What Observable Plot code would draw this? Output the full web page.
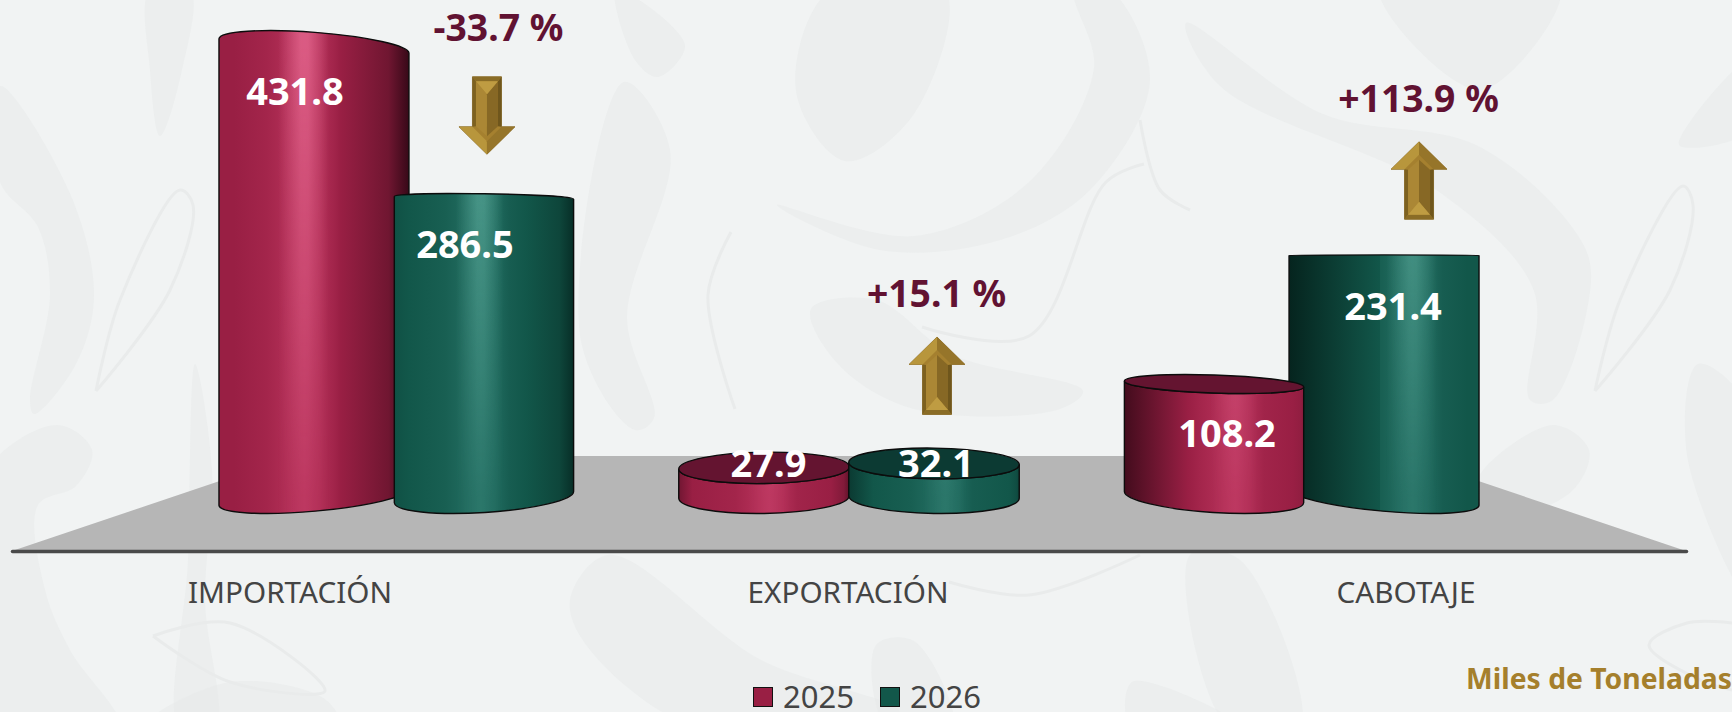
<!DOCTYPE html>
<html lang="es">
<head>
<meta charset="utf-8">
<title>Carga en Miles de Toneladas</title>
<script src="https://cdn.jsdelivr.net/npm/d3@7"></script>
<script src="https://cdn.jsdelivr.net/npm/@observablehq/plot@0.6"></script>
<style>
  html, body { margin: 0; padding: 0; width: 1732px; height: 712px; overflow: hidden; background: #f1f3f3; font-family: "Noto Sans", sans-serif; }
  #stage { position: relative; width: 1732px; height: 712px; overflow: hidden; }
  #stage > svg { position: absolute; left: 0; top: 0; }
  .key { position: absolute; top: 681px; font-size: 31px; line-height: 30px; color: #444; }
  .key i { position: absolute; top: 6px; left: -30px; width: 18px; height: 18px; border: 1.5px solid #111; }
  #unit { position: absolute; right: 0; top: 658px; font-size: 28.3px; line-height: 40px; font-weight: 700; color: #a57f2c; white-space: nowrap; }
</style>
</head>
<body>
<div id="stage"></div>
<script>
// ---- data -------------------------------------------------------------
const categories = ["IMPORTACIÓN", "EXPORTACIÓN", "CABOTAJE"];
const years = [2025, 2026];
const values2025 = [431.8, 27.9, 108.2];
const values2026 = [286.5, 32.1, 231.4];
const changes = [-33.7, 15.1, 113.9];
const unitLabel = "Miles de Toneladas";

// ---- styles -----------------------------------------------------------
const seriesColors = ["#991f44", "#12574a"];
const edgeColors = ["#2c0713", "#04211c"];
const lightColors = ["#b9335c", "#257064"];
const glowColors = ["#ff86ad", "#86d8c6"];
const capColors = ["#641430", "#0c3a33"];
const pctColor = "#611232";

// label offsets from the top of each cylinder, in pixels (2025, 2026 per category)
const valueNudgeX = [[-19.5, -19.5], [4, 1.5], [12.5, 8.5]];
const valueNudgeY = [[46.5, 48], [-3.5, 1], [50.5, 52.5]];
// arrow offset from the top of the 2026 cylinder, and its label above the arrow
const arrowNudgeX = [3, 3, 35];
const arrowNudgeY = [-43.5, -49, -36];
const pctNudgeX = [11, -1, -1];
const pctNudgeY = [-47, -42, -42];

const rows = categories.flatMap((category, i) => [
  {category, i, s: 0, year: years[0], value: values2025[i]},
  {category, i, s: 1, year: years[1], value: values2026[i]}
]);
const changeRows = categories.map((category, i) => ({category, i, change: changes[i], base: values2026[i]}));

// ---- perspective of the 3-D floor ---------------------------------------
const backScale = 0.811, barGap = 85, barWidth = 170;
function barGeometry(row, x) {
  const cMid = (x.range()[0] + x.range()[1]) / 2;
  const c = x(row.category) + x.bandwidth() / 2;
  const projected = cMid + (c - cMid) * backScale;
  const shift = (cMid - projected) / 452 * 2.5;
  const cx = projected + (row.s ? barGap : -barGap) + shift;
  const d = cx - cMid;
  const w = barWidth * (1 + 0.117 * (d / 534) * (d / 534));
  return {cx, w, cMid, p: d / 534};
}
function ellipse(g, y, horizon) {
  const extent = Math.max(-16.5, Math.min(16.5, (y - horizon) / 13.5));
  const tilt = (g.cx - g.cMid) * (y - horizon) / 7700;
  const ry = Math.sign(extent) * Math.sqrt(Math.max(extent * extent - tilt * tilt / 4, 0.16));
  const xl = g.cx - g.w / 2, xr = g.cx + g.w / 2;
  const rx = Math.hypot(g.w, tilt) / 2;
  const phi = Math.atan2(tilt, g.w) * 180 / Math.PI;
  return {ry, tilt, xl, xr, yl: y - tilt / 2, yr: y + tilt / 2, rx, phi};
}
const arc = (e, sweep, x, y) => `A${e.rx},${Math.max(Math.abs(e.ry), 0.4)} ${e.phi} 0 ${sweep} ${x},${y}`;

const mix = (a, b, t) => d3.interpolateRgb(a, b)(Math.max(0, Math.min(1, t)));
function bodyStops(s, p) {
  const base = seriesColors[s], dark = edgeColors[s], light = lightColors[s];
  const h = 0.55 + 0.10 * p;
  const ld = 0.45 + 0.5 * Math.max(p, -1), ls = 0.08 + Math.max(p, 0) * 0.4;
  const rd = 0.45 * (1 - p), rs = 0.06 + Math.max(-p, 0) * 0.3;
  return [
    [0, mix(base, dark, ld)], [ls, base], [h - 0.2, mix(base, light, 0.3)], [h - 0.06, mix(base, light, 0.85)], [h, light],
    [h + 0.08, mix(base, light, 0.75)], [h + 0.16, mix(base, light, 0.25)], [1 - rs, base],
    [1 - rs * 0.3, mix(base, dark, rd * 0.42)], [1, mix(base, dark, rd)]
  ];
}

// ---- custom renderers using Plot's scales ---------------------------------
function renderCylinders(index, scales, values) {
  const {x, y} = scales;
  const horizon = y(d3.min(values2026.concat(values2025).filter(v => v > 200)));
  const root = d3.create("svg:g");
  const defs = root.append("defs");
  const fade = defs.append("linearGradient").attr("id", "fadeV").attr("gradientUnits", "userSpaceOnUse")
    .attr("x1", 0).attr("x2", 0).attr("y1", y(431.8)).attr("y2", y(0));
  fade.append("stop").attr("offset", 0).attr("stop-color", "#fff");
  fade.append("stop").attr("offset", 1).attr("stop-color", "#222");
  defs.append("mask").attr("id", "fadeMask").attr("maskUnits", "userSpaceOnUse")
    .attr("x", 0).attr("y", 0).attr("width", 1732).attr("height", 712)
    .append("rect").attr("width", 1732).attr("height", 712).attr("fill", "url(#fadeV)");

  const order = Array.from(index).sort((a, b) => {
    const ga = barGeometry(rows[a], x), gb = barGeometry(rows[b], x);
    return Math.abs(gb.cx - gb.cMid) - Math.abs(ga.cx - ga.cMid);
  });
  for (const i of order) {
    const row = rows[i], g = barGeometry(row, x);
    const top = ellipse(g, y(row.value), horizon), bot = ellipse(g, y(0), horizon);
    const d = `M${top.xl},${top.yl}` + arc(top, top.ry > 0 ? 0 : 1, top.xr, top.yr) +
      `L${bot.xr},${bot.yr}` + arc(bot, 1, bot.xl, bot.yl) + "Z";
    const grad = defs.append("linearGradient").attr("id", `body${i}`);
    for (const [o, c] of bodyStops(row.s, g.p)) grad.append("stop").attr("offset", o).attr("stop-color", c);
    const h = 0.55 + 0.10 * g.p;
    const glow = defs.append("linearGradient").attr("id", `glow${i}`);
    [[h - 0.14, 0], [h - 0.02, 0.48], [h + 0.02, 0.48], [h + 0.13, 0]].forEach(([o, a]) =>
      glow.append("stop").attr("offset", o).attr("stop-color", glowColors[row.s]).attr("stop-opacity", a));
    root.append("path").attr("d", d).attr("fill", `url(#body${i})`);
    root.append("path").attr("d", d).attr("fill", `url(#glow${i})`).attr("mask", "url(#fadeMask)");
    root.append("path").attr("d", d).attr("fill", "none").attr("stroke", "#0c0c0c").attr("stroke-width", 1.4);
    if (top.ry > 1) {
      const cap = `M${top.xl},${top.yl}` + arc(top, 0, top.xr, top.yr) + arc(top, 0, top.xl, top.yl) + "Z";
      root.append("path").attr("d", cap).attr("fill", capColors[row.s])
        .attr("stroke", "#0c0c0c").attr("stroke-width", 1.4);
    }
  }
  return root.node();
}

function renderFloor(index, scales, values, dimensions) {
  const {width, height, marginLeft, marginRight, marginBottom} = dimensions;
  const x0 = marginLeft, x1 = width - marginRight, y0 = height - marginBottom;
  const yBack = y0 - 95, inset = 282;
  return d3.create("svg:path")
    .attr("d", `M${x0},${y0}L${x0 + inset},${yBack}L${x1 - inset},${yBack}L${x1},${y0}Z`)
    .attr("fill", "#b6b6b6").node();
}

function renderArrows(index, scales) {
  const {x, y} = scales;
  const root = d3.create("svg:g");
  const facets = [
    {f: "#a5802f", s: "#86692a", p: [[0,0],[28,27.5],[14.5,27.5],[14.5,77.5],[-14.5,77.5],[-14.5,27.5],[-28,27.5]]},
    {f: "#7d6120", p: [[-14.5,27.5],[-11,28],[-11,73],[-14.5,77.5]]},
    {f: "#6f561c", p: [[14.5,27.5],[11,28],[11,73],[14.5,77.5]]},
    {f: "#8a6c26", p: [[-14.5,77.5],[14.5,77.5],[11,73],[-11,73]]},
    {f: "#ab8735", p: [[-11,28],[0,18],[0,60],[-11,73]]},
    {f: "#876825", p: [[0,18],[11,28],[11,73],[0,60]]},
    {f: "#bf9c42", p: [[-11,73],[0,60],[11,73]]},
    {f: "#b8963c", p: [[0,0],[-28,27.5],[-14.5,27.5],[0,13]]},
    {f: "#96752a", p: [[0,0],[28,27.5],[14.5,27.5],[0,13]]}
  ];
  for (const i of index) {
    const row = changeRows[i];
    const cx = barGeometry({category: row.category, s: 1}, x).cx + arrowNudgeX[i];
    const yEnd = y(row.base) + arrowNudgeY[i];
    const up = row.change > 0;
    const t = up ? `translate(${cx},${yEnd - 77.5})` : `translate(${cx},${yEnd}) scale(1,-1)`;
    const a = root.append("g").attr("transform", t);
    for (const {f, s, p} of facets) {
      a.append("path").attr("d", "M" + p.join("L") + "Z").attr("fill", f)
        .attr("stroke", s || "none").attr("stroke-width", s ? 0.8 : 0);
    }
  }
  return root.node();
}

// Value labels and % labels: keep Plot's text mark, but place it relative to the 3-D cylinder.
// Plot already offsets a band-positioned text by half the bandwidth, so take that off.
function placeValues(index, scales, values, dimensions, context, next) {
  const half = scales.x.bandwidth() / 2;
  const X = Float64Array.from(rows, r => barGeometry(r, scales.x).cx + valueNudgeX[r.i][r.s] - half);
  const Y = Float64Array.from(rows, r => scales.y(r.value) + valueNudgeY[r.i][r.s]);
  return next(index, scales, {...values, x: X, y: Y}, dimensions, context);
}
function placeChanges(index, scales, values, dimensions, context, next) {
  const half = scales.x.bandwidth() / 2;
  const X = Float64Array.from(changeRows, r => barGeometry({category: r.category, s: 1}, scales.x).cx + arrowNudgeX[r.i] + pctNudgeX[r.i] - half);
  const Y = Float64Array.from(changeRows, r => {
    const end = scales.y(r.base) + arrowNudgeY[r.i];
    return (r.change > 0 ? end - 77.5 : end - 79) + pctNudgeY[r.i];
  });
  return next(index, scales, {...values, x: X, y: Y}, dimensions, context);
}

// ---- the chart -----------------------------------------------------------
const chart = Plot.plot({
  width: 1732,
  height: 712,
  marginLeft: 12,
  marginRight: 46,
  marginTop: 0,
  marginBottom: 161,
  style: {background: "transparent", fontFamily: '"Noto Sans", sans-serif', overflow: "visible"},
  x: {domain: categories, padding: 0, label: null},
  y: {domain: [0, 431.8], range: [497, 46], axis: null},
  color: {type: "ordinal", domain: years, range: seriesColors},
  marks: [
    renderFloor,
    Plot.frame({anchor: "bottom", stroke: "#4a4a4a", strokeWidth: 3.5, strokeLinecap: "round"}),
    Plot.barY(rows, {x: "category", y: "value", fill: "year", render: renderCylinders}),
    Plot.dot(changeRows, {x: "category", y: "base", render: renderArrows}),
    Plot.text(rows, {
      x: "category", y: "value", text: d => d.value.toFixed(1),
      fill: "#fff", fontSize: 38, fontWeight: 700, render: placeValues
    }),
    Plot.text(changeRows, {
      x: "category", y: "base", text: d => (d.change > 0 ? "+" : "") + d.change.toFixed(1) + " %",
      fill: pctColor, fontSize: 37.3, fontWeight: 700, render: placeChanges
    }),
    Plot.axisX({anchor: "bottom", tickSize: 0, tickPadding: 30, fontSize: 29.7, fill: "#444", label: null, dx: -1.5})
  ]
});

// ---- faint watermark behind the chart -------------------------------------
const wmFill = [
  [[0,86],[69,191],[94,295],[76,364],[34,414],[30,400],[50,295],[38,227],[0,182]],
  [[-20,480],[57,425],[92,450],[76,486],[38,505],[45,590],[70,650],[120,730],[-20,730]],
  [[150,-10],[190,-10],[182,70],[160,136],[150,70]],
  [[195,364],[212,470],[205,600],[215,730],[180,730],[188,560]],
  [[146,725],[230,682],[326,700],[340,730]],
  [[616,-10],[685,45],[658,77],[635,60]],
  [[624,82],[670,150],[627,318],[654,418],[635,430],[581,341]],
  [[830,-10],[796,91],[845,161],[914,114],[945,-10]],
  [[777,205],[914,236],[1029,182],[1094,68],[1075,-10],[1110,-10],[1150,80],[1090,190],[1000,240],[880,250]],
  [[811,309],[876,300],[953,355],[1083,391],[1060,409],[914,409],[838,364]],
  [[608,555],[761,660],[900,712],[860,730],[700,730],[590,650],[570,600]],
  [[876,645],[914,641],[953,730],[888,730]],
  [[1186,23],[1323,114],[1476,145],[1572,227],[1591,273],[1553,400],[1530,400],[1534,291],[1438,191],[1220,86]],
  [[1698,364],[1687,455],[1750,600],[1750,409]],
  [[1477,482],[1553,425],[1589,450],[1572,491],[1507,514]],
  [[1132,682],[1247,730],[1132,730]],
  [[1190,555],[1240,560],[1300,730],[1230,730]],
  [[1380,-10],[1480,90],[1560,-10]],
  [[1679,145],[1750,60],[1750,130]]
];
const wmLine = [
  [[96,391],[120,300],[180,190],[193,205],[170,290],[96,391]],
  [[153,636],[230,623],[325,691],[230,682],[153,636]],
  [[731,232],[708,295],[735,409]],
  [[922,327],[1029,336],[1106,182],[1144,164]],
  [[949,582],[1029,595],[1140,555]],
  [[1595,391],[1620,300],[1683,186],[1693,205],[1670,290],[1595,391]],
  [[1732,623],[1687,623],[1649,645],[1700,680],[1732,690]],
  [[1140,120],[1160,190],[1190,210]]
];
const bg = d3.create("svg").attr("width", 1732).attr("height", 712).attr("aria-hidden", "true");
const closed = d3.line().curve(d3.curveCatmullRomClosed.alpha(0.5));
const open = d3.line().curve(d3.curveCatmullRom.alpha(0.5));
wmFill.forEach(p => bg.append("path").attr("d", closed(p)).attr("fill", "#e8eaea").attr("opacity", 0.55));
wmLine.forEach(p => bg.append("path").attr("d", open(p)).attr("fill", "none").attr("stroke", "#e9ebeb").attr("stroke-width", 3));

const stage = document.getElementById("stage");
stage.append(bg.node());
stage.append(chart);

const keyLeft = [783, 910];
years.forEach((yr, i) => {
  const k = document.createElement("div");
  k.className = "key";
  k.style.left = keyLeft[i] + "px";
  k.textContent = yr;
  const sw = document.createElement("i");
  sw.style.background = seriesColors[i];
  k.prepend(sw);
  stage.append(k);
});
const u = document.createElement("div");
u.id = "unit";
u.textContent = unitLabel;
stage.append(u);
</script>
</body>
</html>
